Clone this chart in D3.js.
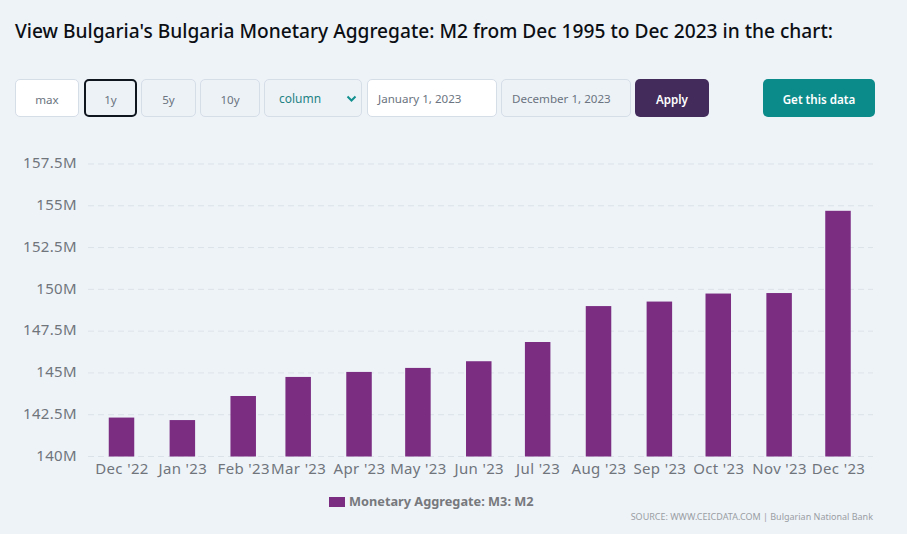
<!DOCTYPE html>
<html>
<head>
<meta charset="utf-8">
<title>Bulgaria Monetary Aggregate: M2</title>
<style type="text/css">
	html, body { margin: 0; padding: 0; }
	body {
		width: 907px;
		height: 534px;
		overflow: hidden;
		position: relative;
		background: #eef3f8;
		font-family: "Noto Sans", sans-serif;
	}
	h1 {
		position: absolute;
		left: 15px;
		top: 18px;
		margin: 0;
		font-size: 19.15px;
		line-height: 26px;
		font-weight: 500;
		color: #0c0f14;
		white-space: nowrap;
	}
	.ctl {
		position: absolute;
		top: 79px;
		height: 38px;
		box-sizing: border-box;
		border: 1px solid #d5dde7;
		border-radius: 5px;
		font-size: 11.6px;
		line-height: 40px;
		text-align: center;
		color: #6b7480;
		background: #edf2f7;
	}
	.ctl.white { background: #fff; }
	.ctl.left { text-align: left; padding-left: 10px; line-height: 38px; }
	.ctl.active { border: 2px solid #10161e; line-height: 37px; }
	.ctl.select { color: #1f8284; text-align: left; padding-left: 14px; font-size: 12px; line-height: 38px; }
	.ctl.solid { border: 0; color: #fff; font-weight: 600; line-height: 42px; }
	svg { position: absolute; left: 0; top: 0; }
	.axis text { font-family: "Noto Sans", sans-serif; font-size: 15px; letter-spacing: 0.35px; fill: #70757c; }
	.axis path, .axis line { display: none; }
	.grid line { stroke: #dbe2e8; stroke-width: 1; stroke-dasharray: 6 4; }
	.legend-label { font-family: "Noto Sans", sans-serif; font-size: 12.75px; font-weight: 700; fill: #77797d; }
	.source { font-family: "Noto Sans", sans-serif; font-size: 9px; fill: #9a9ea3; }
</style>
</head>
<body>
<script src="https://d3js.org/d3.v7.min.js"></script>
<script type="text/javascript">
	const titleText = "View Bulgaria's Bulgaria Monetary Aggregate: M2 from Dec 1995 to Dec 2023 in the chart:";
	const months = ["2022-12-01", "2023-01-01", "2023-02-01", "2023-03-01", "2023-04-01", "2023-05-01", "2023-06-01",
		"2023-07-01", "2023-08-01", "2023-09-01", "2023-10-01", "2023-11-01", "2023-12-01"];
	const m2Values = [142.33, 142.18, 143.62, 144.76, 145.06, 145.30, 145.70, 146.85, 149.00, 149.27, 149.75, 149.78, 154.70];
	const yTicks = [140, 142.5, 145, 147.5, 150, 152.5, 155, 157.5];
	const seriesName = "Monetary Aggregate: M3: M2";
	const sourceText = "SOURCE: WWW.CEICDATA.COM | Bulgarian National Bank";

	// left, width, label, extra classes, fill
	const controls = [
		[15, 64, "max", "white", null],
		[84, 53, "1y", "active", null],
		[141, 55, "5y", "", null],
		[200, 60, "10y", "", null],
		[264, 98, "column", "select", null],
		[367, 130, "January 1, 2023", "white left", null],
		[501, 130, "December 1, 2023", "left", null],
		[635, 74, "Apply", "solid", "#432c5c"],
		[763, 112, "Get this data", "solid", "#0c8b8b"]
	];

	const body = d3.select("body");
	body.append("h1").text(titleText);

	body.selectAll("div.ctl").data(controls).enter()
		.append("div")
		.attr("class", d => "ctl " + d[3])
		.style("left", d => d[0] + "px")
		.style("width", d => d[1] + "px")
		.style("background", d => d[4])
		.text(d => d[2]);

	const svg = body.append("svg").attr("width", 907).attr("height", 534);

	// little chevron on the chart type select
	svg.append("path")
		.attr("d", "M347.5,96.5 L351.5,100.5 L355.5,96.5")
		.attr("fill", "none")
		.attr("stroke", "#12908f")
		.attr("stroke-width", 2);

	const parseDate = d3.utcParse("%Y-%m-%d");
	const dates = months.map(parseDate);

	// time scale, so the month lengths give the uneven bar spacing
	const x = d3.scaleUtc().domain([dates[0], dates[dates.length - 1]]).range([121.5, 838]);
	const y = d3.scaleLinear().domain([140, 157.5]).range([456.5, 164]);
	const barWidth = 25.5;

	svg.append("g").attr("class", "grid")
		.selectAll("line").data(yTicks).enter()
		.append("line")
		.attr("x1", 88)
		.attr("x2", 873)
		.attr("y1", d => y(d))
		.attr("y2", d => y(d));

	svg.append("g").selectAll("rect").data(m2Values).enter()
		.append("rect")
		.attr("x", (d, i) => x(dates[i]) - barWidth / 2)
		.attr("width", barWidth)
		.attr("y", d => y(d))
		.attr("height", d => y(140) - y(d))
		.attr("fill", "#7b2d82");

	svg.append("g").attr("class", "axis")
		.attr("transform", "translate(77,-1)")
		.call(d3.axisLeft(y).tickValues(yTicks).tickSize(0).tickPadding(0).tickFormat(d => d + "M"));

	const monthFormat = d3.utcFormat("%b '%y");
	svg.append("g").attr("class", "axis")
		.attr("transform", "translate(0,460)")
		.call(d3.axisBottom(x).tickValues(dates).tickSize(0).tickPadding(3).tickFormat(monthFormat));

	svg.append("rect")
		.attr("x", 329)
		.attr("y", 497)
		.attr("width", 16)
		.attr("height", 10)
		.attr("fill", "#7b2d82");

	svg.append("text")
		.attr("class", "legend-label")
		.attr("x", 349)
		.attr("y", 506)
		.text(seriesName);

	svg.append("text")
		.attr("class", "source")
		.attr("x", 873)
		.attr("y", 520)
		.attr("text-anchor", "end")
		.text(sourceText);
</script>
</body>
</html>
